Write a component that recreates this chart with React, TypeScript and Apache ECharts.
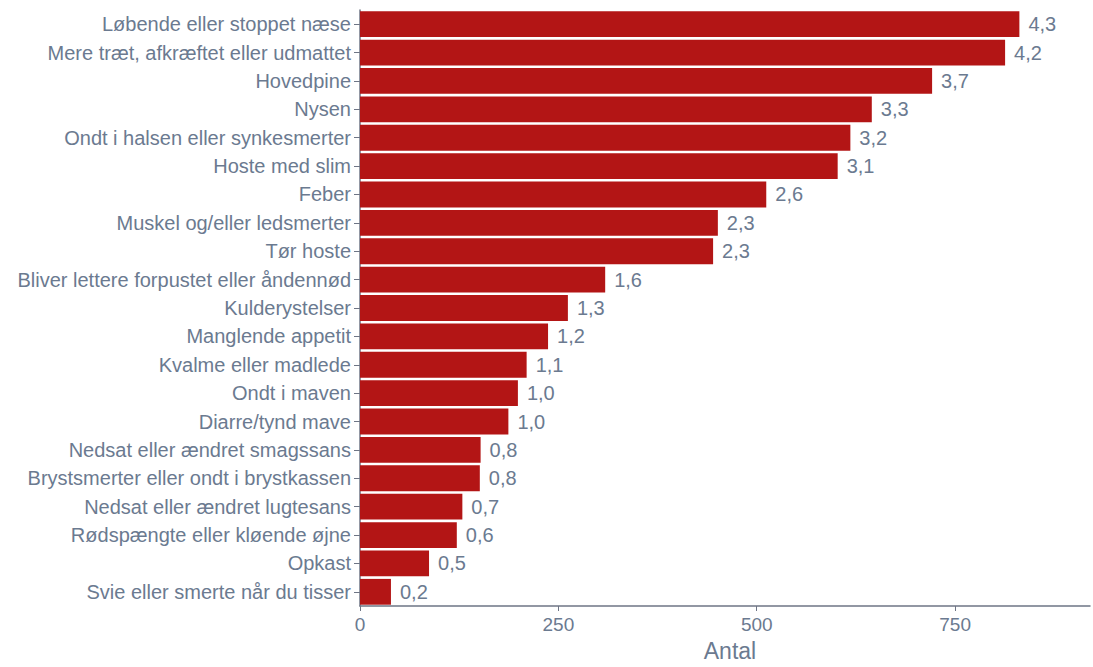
import React, { useEffect, useRef } from "react";
import * as echarts from "echarts";

const categories = [
  "Løbende eller stoppet næse",
  "Mere træt, afkræftet eller udmattet",
  "Hovedpine",
  "Nysen",
  "Ondt i halsen eller synkesmerter",
  "Hoste med slim",
  "Feber",
  "Muskel og/eller ledsmerter",
  "Tør hoste",
  "Bliver lettere forpustet eller åndennød",
  "Kulderystelser",
  "Manglende appetit",
  "Kvalme eller madlede",
  "Ondt i maven",
  "Diarre/tynd mave",
  "Nedsat eller ændret smagssans",
  "Brystsmerter eller ondt i brystkassen",
  "Nedsat eller ændret lugtesans",
  "Rødspængte eller kløende øjne",
  "Opkast",
  "Svie eller smerte når du tisser",
];

const counts = [831, 813, 721, 645, 618, 602, 512, 451, 445, 309, 262, 237, 210, 199, 187, 152, 151, 129, 122, 87, 39];

const percentLabels = ["4,3", "4,2", "3,7", "3,3", "3,2", "3,1", "2,6", "2,3", "2,3", "1,6", "1,3", "1,2", "1,1", "1,0", "1,0", "0,8", "0,8", "0,7", "0,6", "0,5", "0,2"];

const xTicks = [0, 250, 500, 750];

export default function App() {
  const ref = useRef<HTMLDivElement>(null);
  useEffect(() => {
    if (!ref.current) return;
    const chart = echarts.init(ref.current, undefined, { renderer: "svg" });
    const textColor = "#6b7a90";
    const axisColor = "#6e7585";
    const font = "Liberation Sans, Arial, sans-serif";
    chart.setOption({
      animation: false,
      grid: { left: 360, right: 3, top: 10, bottom: 56, containLabel: false },
      xAxis: {
        type: "value",
        min: 0,
        max: 920,
        interval: 250,
        name: "Antal",
        nameLocation: "middle",
        nameGap: 33,
        nameTextStyle: { color: textColor, fontSize: 23, fontFamily: font, padding: [0, 0, 0, 10] },
        axisLine: { show: true, lineStyle: { color: axisColor, width: 1.5 } },
        axisTick: { show: true, length: 5, lineStyle: { color: axisColor } },
        axisLabel: {
          color: textColor,
          fontSize: 19,
          margin: 9,
          fontFamily: font,
          showMaxLabel: false,
          formatter: (v: number) => (xTicks.includes(v) ? String(v) : ""),
        },
        splitLine: { show: false },
      },
      yAxis: {
        type: "category",
        data: categories,
        inverse: true,
        axisLine: { show: true, lineStyle: { color: axisColor, width: 1.5 } },
        axisTick: { show: true, length: 6, alignWithLabel: true, lineStyle: { color: axisColor } },
        axisLabel: {
          color: textColor,
          fontSize: 20,
          margin: 9,
          fontFamily: font,
          padding: [3, 0, 0, 0],
        },
      },
      series: [
        {
          type: "bar",
          data: counts,
          barCategoryGap: "9%",
          itemStyle: { color: "#b31515" },
          label: {
            show: true,
            position: "right",
            distance: 9,
            color: textColor,
            fontSize: 20,
            fontFamily: font,
            padding: [3, 0, 0, 0],
            formatter: (p: any) => percentLabels[p.dataIndex],
          },
        },
      ],
    });
    return () => chart.dispose();
  }, []);
  return <div ref={ref} style={{ position: "absolute", left: 0, top: 0, width: 1093, height: 667 }} />;
}
